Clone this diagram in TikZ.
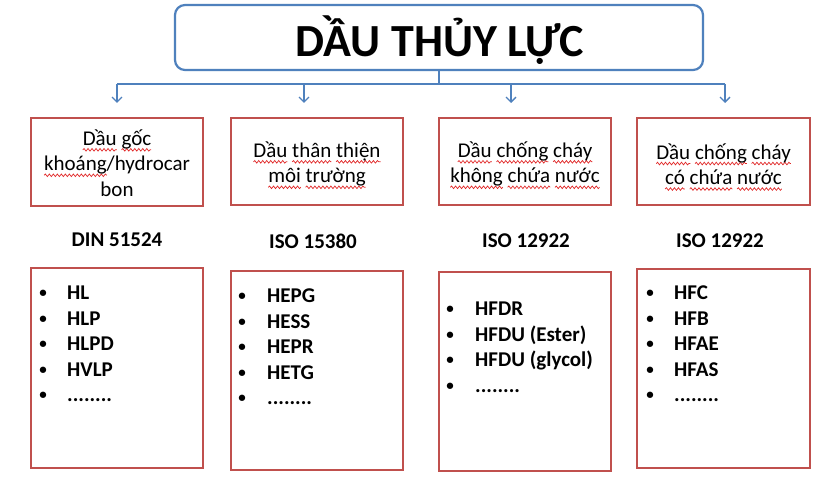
\documentclass[tikz,border=0pt]{standalone}
\usepackage{fontspec}
\setmainfont{Carlito}
\usetikzlibrary{arrows.meta,decorations.pathmorphing}
\definecolor{boxred}{RGB}{192,80,77}
\definecolor{lineblue}{RGB}{79,129,189}
\definecolor{wavered}{RGB}{225,40,40}
\newsavebox\wordbox
\newcommand\redwave[1]{\sbox\wordbox{#1}\leavevmode\tikz[overlay,baseline=0pt]{\draw[wavered, line width=0.7pt, decorate, decoration={snake, amplitude=1.3pt, segment length=4pt}] (0pt,-4.5pt) -- (\the\wd\wordbox,-4.5pt);}\usebox\wordbox}
\newcommand\eightdots{.\kern0pt.\kern0pt.\kern0pt.\kern0pt.\kern0pt.\kern0pt.\kern0pt.}
\begin{document}
\begin{tikzpicture}[x=1pt,y=-1pt,
  titlebox/.style={draw=lineblue, line width=2.2pt, rounded corners=10pt, minimum width=528pt, minimum height=65pt, inner sep=0pt},
  catbox/.style={draw=boxred, line width=2pt, minimum width=172pt, minimum height=87pt, inner sep=0pt},
  listbox/.style={draw=boxred, line width=2pt, minimum width=172pt, minimum height=199pt, inner sep=0pt},
  cattext/.style={align=center, font=\fontsize{21}{25.5}\selectfont, inner sep=0pt},
  stdlabel/.style={font=\fontsize{21}{25.5}\selectfont\bfseries, inner sep=0pt},
  item/.style={font=\fontsize{21}{25.5}\selectfont\bfseries, inner sep=0pt, anchor=base west},
  bul/.style={font=\fontsize{15}{18}\selectfont\bfseries, inner sep=0pt, anchor=base},
  conn/.style={draw=lineblue, line width=1.3pt},
  arr/.style={conn, -{Straight Barb[length=5pt,width=10pt]}}
]
\useasboundingbox (0,0) rectangle (839,494);
\fill[white] (0,0) rectangle (839,494);

% title
\node[titlebox] (top) at (439,37.5) {};
\node[inner sep=0pt, anchor=base, font=\fontsize{46}{50}\selectfont\bfseries] (title) at (440,57) {DẦU THỦY LỰC};

% connectors
\coordinate (b1) at (117,84);
\coordinate (b2) at (304,84);
\coordinate (b3) at (511,84);
\coordinate (b4) at (725,84);
\coordinate (t1) at (117,103);
\coordinate (t2) at (304,103);
\coordinate (t3) at (511,103);
\coordinate (t4) at (725,103);
\draw[conn] (top.south) -- (top.south |- b1);
\draw[conn] (b1) -- (b4);
\draw[arr] (b1) -- (t1);
\draw[arr] (b2) -- (t2);
\draw[arr] (b3) -- (t3);
\draw[arr] (b4) -- (t4);

% category boxes
\node[catbox, minimum height=88pt] (c1) at (117,162) {};
\node[catbox] (c2) at (317,161.5) {};
\node[catbox] (c3) at (525,161.5) {};
\node[catbox, minimum width=173pt] (c4) at (723.5,161.5) {};
\node[cattext] (c1t) at (117,163) {\redwave{Dầu} \redwave{gốc}\\\redwave{khoáng}/hydrocar\\bon};
\node[cattext] (c2t) at (317,164) {\redwave{Dầu} \redwave{thân} \redwave{thiện}\\\redwave{môi} \redwave{trường}};
\node[cattext] (c3t) at (525,164) {\redwave{Dầu} \redwave{chống} \redwave{cháy}\\\redwave{không} \redwave{chứa} \redwave{nước}};
\node[cattext] (c4t) at (723.5,164) {\redwave{Dầu} \redwave{chống} \redwave{cháy}\\\redwave{có} \redwave{chứa} \redwave{nước}};

% standards
\node[stdlabel] (s1) at (117,240) {DIN 51524};
\node[stdlabel] (s2) at (313,241) {ISO 15380};
\node[stdlabel] (s3) at (526,241) {ISO 12922};
\node[stdlabel] (s4) at (720,241) {ISO 12922};

% list boxes
\node[listbox, minimum height=200pt] (l1) at (117,368) {};
\node[listbox] (l2) at (317,371) {};
\node[listbox] (l3) at (525,371.5) {};
\node[listbox, minimum width=173pt] (l4) at (723.5,368.5) {};

\foreach \t [count=\i] in {HL,HLP,HLPD,HVLP,\eightdots} {
  \node[item] (p1-\i) at (67,{300+(\i-1)*25.5}) {\t};
  \node[bul] (q1-\i) at (43,{298+(\i-1)*25.5}) {•};
}
\foreach \t [count=\i] in {HEPG,HESS,HEPR,HETG,\eightdots} {
  \node[item] (p2-\i) at (267,{303+(\i-1)*25.5}) {\t};
  \node[bul] (q2-\i) at (242,{301+(\i-1)*25.5}) {•};
}
\foreach \t [count=\i] in {HFDR,HFDU (Ester),HFDU (glycol),\eightdots} {
  \node[item] (p3-\i) at (475,{316+(\i-1)*25.5}) {\t};
  \node[bul] (q3-\i) at (450,{314+(\i-1)*25.5}) {•};
}
\foreach \t [count=\i] in {HFC,HFB,HFAE,HFAS,\eightdots} {
  \node[item] (p4-\i) at (674,{300+(\i-1)*25.5}) {\t};
  \node[bul] (q4-\i) at (650,{298+(\i-1)*25.5}) {•};
}
\end{tikzpicture}
\end{document}
